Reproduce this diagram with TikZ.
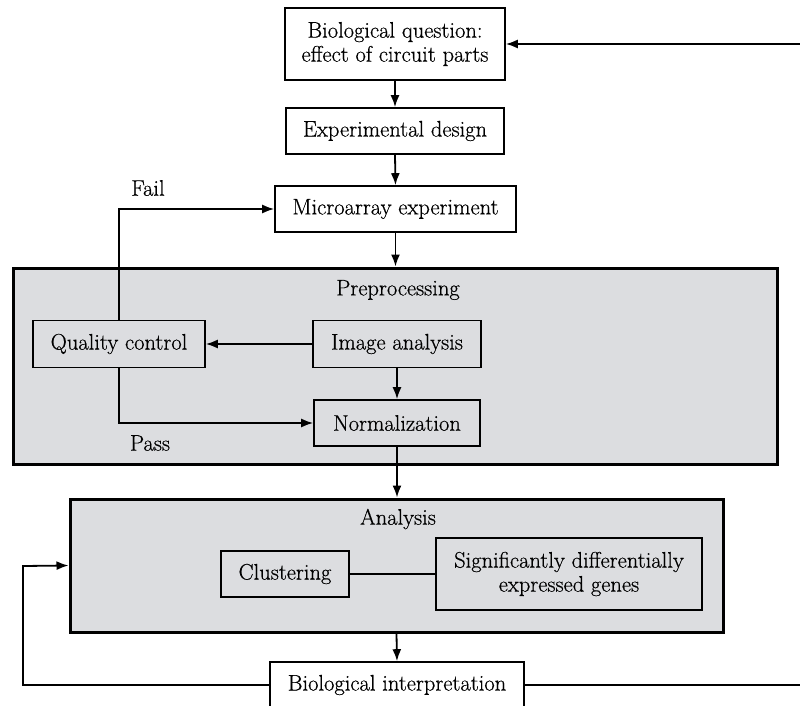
\documentclass[tikz,border=0pt]{standalone}
\usepackage{fontspec}
\newfontfamily\diagfont{Latin Modern Roman}[FakeBold=0.5]
\usetikzlibrary{arrows.meta}
\definecolor{boxgray}{RGB}{220,221,224}
\begin{document}
\begin{tikzpicture}[x=1pt,y=-1pt,
  every node/.style={font=\diagfont\fontsize{22.5}{24}\selectfont},
  proc/.style={draw, line width=1.6pt, fill=white, inner sep=0pt, align=center},
  group/.style={draw, line width=3pt, fill=boxgray},
  conn/.style={line width=1.8pt},
  arr/.style={conn, -{Latex[length=12pt,width=9pt]}},
  lbl/.style={inner sep=0pt}]
\useasboundingbox (0,0) rectangle (800,706);
\clip (0,0) rectangle (800,706);
% group boxes
\node[group, minimum width=764pt, minimum height=196pt, inner sep=0pt] (pre) at (395,366) {};
\node[group, minimum width=653pt, minimum height=133pt, inner sep=0pt] (an) at (396.5,565.5) {};
\node[lbl] (prelbl) at (398,290) {Preprocessing};
\node[lbl] (anlbl) at (398,519) {Analysis};
% process boxes
\node[proc, minimum width=220pt, minimum height=72pt] (bq) at (395,44) {Biological question:\\effect of circuit parts};
\node[proc, minimum width=218pt, minimum height=46pt] (ed) at (395,131) {Experimental design};
\node[proc, minimum width=241pt, minimum height=46pt] (ma) at (395.5,209) {Microarray experiment};
\node[proc, fill=boxgray, minimum width=172pt, minimum height=47pt] (qc) at (119,344) {Quality control};
\node[proc, fill=boxgray, minimum width=168pt, minimum height=47pt] (ia) at (397,344) {Image analysis};
\node[proc, fill=boxgray, minimum width=166pt, minimum height=46pt] (nm) at (397,423) {Normalization};
\node[proc, fill=boxgray, minimum width=128pt, minimum height=46pt] (cl) at (285,574) {Clustering};
\node[proc, fill=boxgray, minimum width=266pt, minimum height=72pt] (sg) at (569,574) {Significantly differentially\\expressed genes};
\node[proc, minimum width=254pt, minimum height=46pt] (bi) at (397,685) {Biological interpretation};
% labels
\node[lbl] (fail) at (148,188) {Fail};
\node[lbl] (pass) at (150,443) {Pass};
% coordinates
\coordinate (L) at (23,566);
\coordinate (R) at (815,400);
% connectors
\draw[arr] (bq.south) -- (ed.north);
\draw[arr] (ed.south) -- (ma.north);
\draw[arr] (ma.south) -- (ma.south |- pre.north);
\draw[arr] (qc.north) |- (ma.west);
\draw[arr] (ia.west) -- (qc.east);
\draw[arr] (ia.south) -- (nm.north);
\draw[arr] (qc.south) |- (nm.west);
\draw[arr] (nm.south) -- (nm.south |- an.north);
\draw[conn] (cl.east) -- (sg.west);
\draw[arr] (an.south) -- (bi.north);
\draw[arr] (bi.west) -| (L) -- (an.west);
\draw[arr] (bi.east) -| (R) |- (bq.east);
\end{tikzpicture}
\end{document}
